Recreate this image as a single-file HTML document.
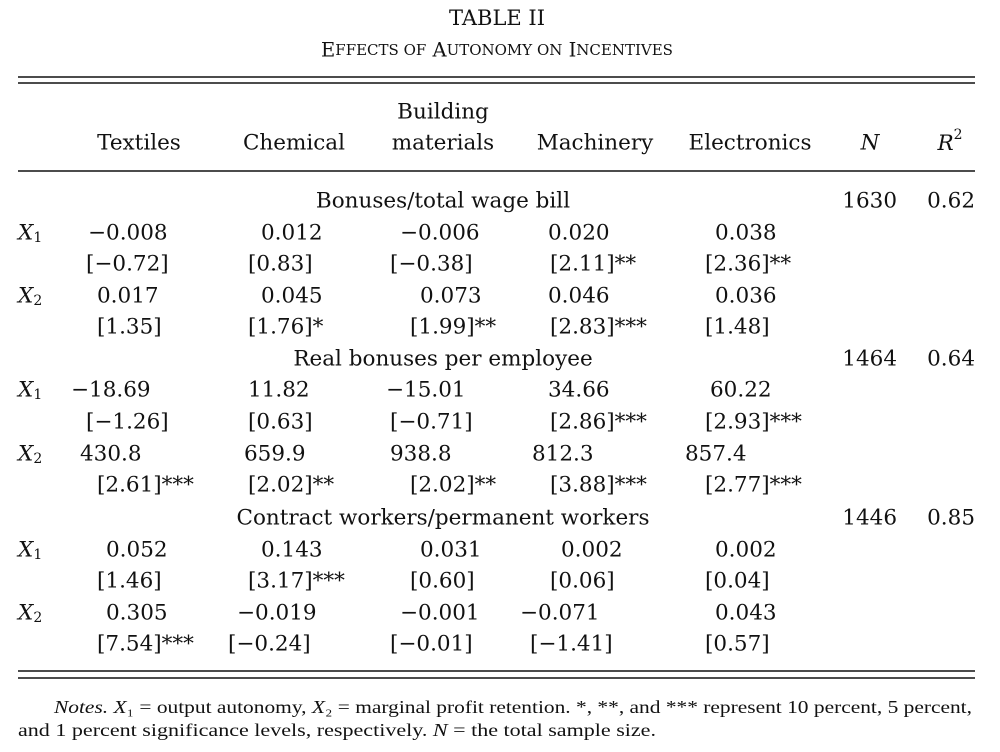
<!DOCTYPE html>
<html><head><meta charset="utf-8"><style>
html,body{margin:0;padding:0;background:#fff;}
svg{display:block;}
text{font-family:"DejaVu Serif","Liberation Serif",serif;fill:#111;}
</style></head><body>
<svg width="1000" height="752" viewBox="0 0 1000 752" font-size="21.5" dominant-baseline="central">
<text x="497" y="18" text-anchor="middle" font-size="21">TABLE II</text>
<text x="497" y="50" text-anchor="middle" font-size="19.5">E<tspan font-size="15">FFECTS OF</tspan> A<tspan font-size="15">UTONOMY ON</tspan> I<tspan font-size="15">NCENTIVES</tspan></text>
<g stroke="#111">
<line x1="18" y1="77" x2="975" y2="77" stroke-width="1.6"/>
<line x1="18" y1="83" x2="975" y2="83" stroke-width="1.6"/>
<line x1="18" y1="171" x2="975" y2="171" stroke-width="1.4"/>
<line x1="18" y1="671" x2="975" y2="671" stroke-width="1.6"/>
<line x1="18" y1="678" x2="975" y2="678" stroke-width="1.6"/>
</g>
<text x="443" y="112" text-anchor="middle">Building</text>
<g text-anchor="middle">
<text x="139" y="143">Textiles</text>
<text x="294" y="143">Chemical</text>
<text x="443" y="143">materials</text>
<text x="595" y="143">Machinery</text>
<text x="750" y="143">Electronics</text>
<text x="870" y="143" font-style="italic">N</text>
<text x="950" y="143"><tspan font-style="italic">R</tspan><tspan font-size="14" dy="-8">2</tspan></text>
<text x="443" y="201">Bonuses/total wage bill</text>
<text x="443" y="359">Real bonuses per employee</text>
<text x="443" y="518">Contract workers/permanent workers</text>
</g>
<g text-anchor="end">
<text x="897" y="201">1630</text><text x="975" y="201">0.62</text>
<text x="897" y="359">1464</text><text x="975" y="359">0.64</text>
<text x="897" y="518">1446</text><text x="975" y="518">0.85</text>
</g>
<g font-style="italic">
<text x="18" y="233">X<tspan font-size="14" dy="5" font-style="normal">1</tspan></text>
<text x="18" y="296">X<tspan font-size="14" dy="5" font-style="normal">2</tspan></text>
<text x="18" y="390">X<tspan font-size="14" dy="5" font-style="normal">1</tspan></text>
<text x="18" y="454">X<tspan font-size="14" dy="5" font-style="normal">2</tspan></text>
<text x="18" y="550">X<tspan font-size="14" dy="5" font-style="normal">1</tspan></text>
<text x="18" y="613">X<tspan font-size="14" dy="5" font-style="normal">2</tspan></text>
</g>
<g>
<text x="88" y="233">−0.008</text><text x="261" y="233">0.012</text><text x="400" y="233">−0.006</text><text x="548" y="233">0.020</text><text x="715" y="233">0.038</text>
<text x="86" y="264">[−0.72]</text><text x="248" y="264">[0.83]</text><text x="390" y="264">[−0.38]</text><text x="550" y="264">[2.11]**</text><text x="705" y="264">[2.36]**</text>
<text x="97" y="296">0.017</text><text x="261" y="296">0.045</text><text x="420" y="296">0.073</text><text x="548" y="296">0.046</text><text x="715" y="296">0.036</text>
<text x="97" y="327">[1.35]</text><text x="248" y="327">[1.76]*</text><text x="410" y="327">[1.99]**</text><text x="550" y="327">[2.83]***</text><text x="705" y="327">[1.48]</text>
<text x="71" y="390">−18.69</text><text x="248" y="390">11.82</text><text x="386" y="390">−15.01</text><text x="548" y="390">34.66</text><text x="710" y="390">60.22</text>
<text x="86" y="422">[−1.26]</text><text x="248" y="422">[0.63]</text><text x="390" y="422">[−0.71]</text><text x="550" y="422">[2.86]***</text><text x="705" y="422">[2.93]***</text>
<text x="80" y="454">430.8</text><text x="244" y="454">659.9</text><text x="390" y="454">938.8</text><text x="532" y="454">812.3</text><text x="685" y="454">857.4</text>
<text x="97" y="485">[2.61]***</text><text x="248" y="485">[2.02]**</text><text x="410" y="485">[2.02]**</text><text x="550" y="485">[3.88]***</text><text x="705" y="485">[2.77]***</text>
<text x="106" y="550">0.052</text><text x="261" y="550">0.143</text><text x="420" y="550">0.031</text><text x="561" y="550">0.002</text><text x="715" y="550">0.002</text>
<text x="97" y="581">[1.46]</text><text x="248" y="581">[3.17]***</text><text x="410" y="581">[0.60]</text><text x="550" y="581">[0.06]</text><text x="705" y="581">[0.04]</text>
<text x="106" y="613">0.305</text><text x="237" y="613">−0.019</text><text x="400" y="613">−0.001</text><text x="520" y="613">−0.071</text><text x="715" y="613">0.043</text>
<text x="97" y="644">[7.54]***</text><text x="228" y="644">[−0.24]</text><text x="390" y="644">[−0.01]</text><text x="530" y="644">[−1.41]</text><text x="705" y="644">[0.57]</text>
</g>
<g style="font-family:'Liberation Serif',serif">
<text x="54" y="707" font-size="17.5" textLength="918" lengthAdjust="spacingAndGlyphs" style="font-family:'Liberation Serif',serif"><tspan font-style="italic">Notes.</tspan> <tspan font-style="italic">X</tspan>₁ = output autonomy, <tspan font-style="italic">X</tspan>₂ = marginal profit retention. *, **, and *** represent 10 percent, 5 percent,</text>
<text x="18" y="730" font-size="17.5" textLength="638" lengthAdjust="spacingAndGlyphs" style="font-family:'Liberation Serif',serif">and 1 percent significance levels, respectively. <tspan font-style="italic">N</tspan> = the total sample size.</text>
</g>
</svg>
</body></html>
